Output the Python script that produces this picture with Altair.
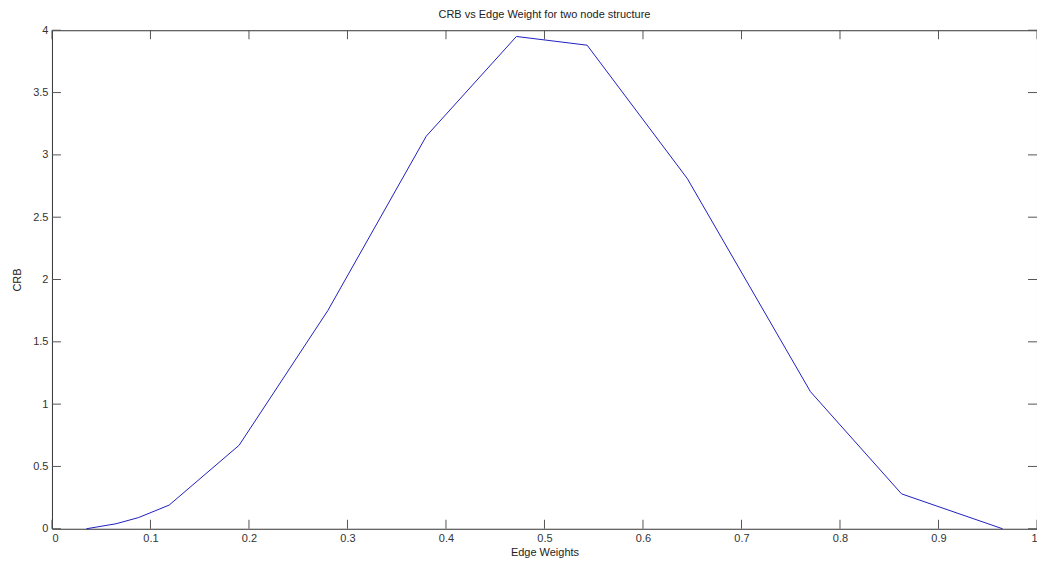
import altair as alt
import pandas as pd

# Data
edge_weights = [0.035, 0.065, 0.088, 0.119, 0.190, 0.280, 0.380, 0.4715, 0.5433, 0.645, 0.770, 0.8625, 0.965]
crb_values = [0.0, 0.04, 0.09, 0.19, 0.67, 1.75, 3.15, 3.95, 3.88, 2.81, 1.10, 0.28, 0.0]

x_ticks = [0, 0.1, 0.2, 0.3, 0.4, 0.5, 0.6, 0.7, 0.8, 0.9, 1]
y_ticks = [0, 0.5, 1, 1.5, 2, 2.5, 3, 3.5, 4]

W, H = 986, 499
TL = 9
FONT = "Liberation Sans"

df = pd.DataFrame({"w": edge_weights, "crb": crb_values})
xt = pd.DataFrame({"t": x_ticks})
yt = pd.DataFrame({"t": y_ticks})

xscale = alt.Scale(domain=[0, 1], nice=False, zero=False)
yscale = alt.Scale(domain=[0, 4], nice=False, zero=False)

line = alt.Chart(df).mark_line(color="#2020c0", strokeWidth=1).encode(
    x=alt.X("w:Q", scale=xscale,
            axis=alt.Axis(title="Edge Weights", values=x_ticks, ticks=False, grid=False,
                          labelExpr="datum.value == 0 || datum.value == 1 ? format(datum.value, 'd') : format(datum.value, '.1f')")),
    y=alt.Y("crb:Q", scale=yscale,
            axis=alt.Axis(title="CRB", values=y_ticks, ticks=False, grid=False,
                          labelExpr="datum.value % 1 == 0 ? format(datum.value, 'd') : format(datum.value, '.1f')")),
)

tick_color = "#555555"
xb = alt.Chart(xt).mark_rule(color=tick_color).encode(
    x=alt.X("t:Q", scale=xscale), y=alt.value(H), y2=alt.value(H - TL))
xtop = alt.Chart(xt).mark_rule(color=tick_color).encode(
    x=alt.X("t:Q", scale=xscale), y=alt.value(0), y2=alt.value(TL))
yl = alt.Chart(yt).mark_rule(color=tick_color).encode(
    y=alt.Y("t:Q", scale=yscale), x=alt.value(0), x2=alt.value(TL))
yr = alt.Chart(yt).mark_rule(color=tick_color).encode(
    y=alt.Y("t:Q", scale=yscale), x=alt.value(W), x2=alt.value(W - TL))

chart = alt.layer(xb, xtop, yl, yr, line).properties(
    width=W, height=H,
    title=alt.TitleParams("CRB vs Edge Weight for two node structure",
                          font=FONT, fontSize=11, fontWeight="normal", color="#222222",
                          anchor="middle", offset=4),
    autosize=alt.AutoSizeParams(type="none"),
    padding={"left": 44, "top": 22, "right": 0, "bottom": 30},
).configure(
    background="white"
).configure_view(
    stroke="#333333", strokeWidth=1
).configure_axis(
    domain=False, grid=False,
    labelFont=FONT, labelFontSize=11, labelColor="#333333",
    titleFont=FONT, titleFontSize=11, titleFontWeight="normal", titleColor="#222222",
).configure_axisX(
    labelPadding=4, titlePadding=3
).configure_axisY(
    labelPadding=4, titlePadding=10
)

chart.save("out.html", embed_options={"renderer": "svg", "actions": False})
